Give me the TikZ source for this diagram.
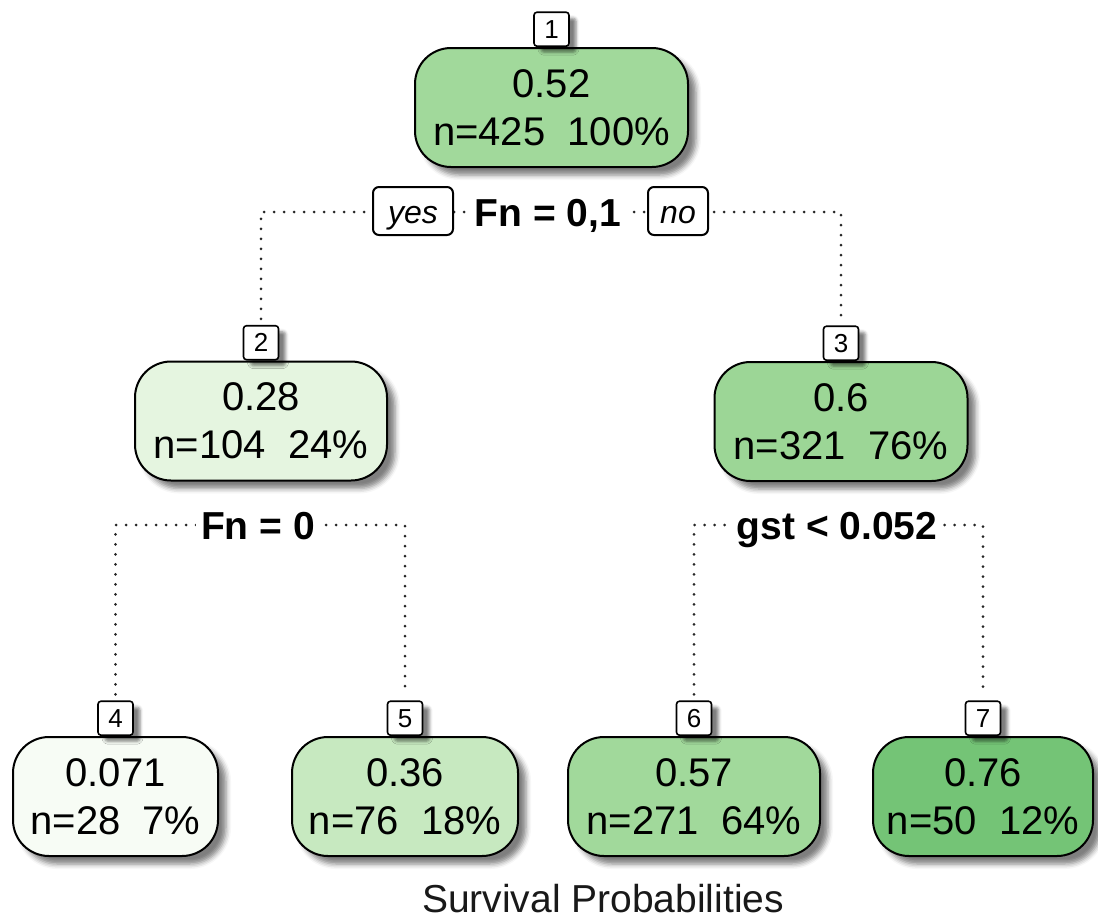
\documentclass[tikz,border=0pt]{standalone}
\usepackage{fontspec}
\setmainfont{Liberation Sans}
\usetikzlibrary{shadows.blur}

\definecolor{gA}{HTML}{F7FCF5}
\definecolor{gB}{HTML}{E5F5E0}
\definecolor{gC}{HTML}{C7E9C0}
\definecolor{gD}{HTML}{A1D99B}
\definecolor{gE}{HTML}{9CD696}
\definecolor{gF}{HTML}{74C476}

\pgfdeclarelayer{background}
\pgfsetlayers{background,main}

\begin{document}
\begin{tikzpicture}[x=1pt,y=-1pt,
  treenode/.style={draw=black, line width=2pt, rounded corners=36pt,
    minimum height=119pt, inner sep=0pt, align=center, text=black,
    font=\fontsize{40}{48}\selectfont,
    blur shadow={shadow xshift=8pt, shadow yshift=-8pt,
      shadow blur radius=5pt, shadow opacity=50}},
  numbox/.style={draw=black, line width=1.6pt, fill=white, rounded corners=3pt,
    minimum width=35pt, minimum height=34pt, inner sep=0pt, anchor=south,
    font=\fontsize{26}{26}\selectfont,
    blur shadow={shadow xshift=7pt, shadow yshift=-6pt,
      shadow blur radius=3pt, shadow opacity=50}},
  splitlabel/.style={fill=white, inner xsep=5pt, inner ysep=0pt,
    text height=29pt, text depth=0pt,
    font=\bfseries\fontsize{39}{39}\selectfont},
  answer/.style={draw=black, line width=2pt, fill=white, rounded corners=6pt,
    minimum height=48pt, inner sep=0pt, text height=24pt, text depth=0pt,
    font=\itshape\fontsize{32}{32}\selectfont},
  dotline/.style={line width=3pt, line cap=round, dash pattern=on 0pt off 10pt,
    black!85, shorten <=6pt, shorten >=6pt}
]
\useasboundingbox (0,0) rectangle (1098,919);

% tree nodes
\node[treenode, fill=gD, minimum width=273pt] (n1) at (551.5,107.5) {0.52\\n=425\ \ 100\%};
\node[treenode, fill=gB, minimum width=252pt] (n2) at (261,421) {0.28\\n=104\ \ 24\%};
\node[treenode, fill=gE, minimum width=253pt] (n3) at (841,421.5) {0.6\\n=321\ \ 76\%};
\node[treenode, fill=gA, minimum width=205pt] (n4) at (115.5,796.5) {0.071\\n=28\ \ 7\%};
\node[treenode, fill=gC, minimum width=226pt] (n5) at (405,796.5) {0.36\\n=76\ \ 18\%};
\node[treenode, fill=gD, minimum width=252pt] (n6) at (694,796.5) {0.57\\n=271\ \ 64\%};
\node[treenode, fill=gF, minimum width=220pt] (n7) at (983,796.5) {0.76\\n=50\ \ 12\%};

% node numbers
\node[numbox] (l1) at (n1.north) {1};
\node[numbox] (l2) at (n2.north) {2};
\node[numbox] (l3) at (n3.north) {3};
\node[numbox] (l4) at (n4.north) {4};
\node[numbox] (l5) at (n5.north) {5};
\node[numbox] (l6) at (n6.north) {6};
\node[numbox] (l7) at (n7.north) {7};

% split rules
\node[splitlabel] (s1) at (548,212) {Fn = 0,1};
\node[splitlabel] (s2) at (258,525) {Fn = 0};
\node[splitlabel] (s3) at (837,525) {gst < 0.052};
\node[answer, minimum width=80pt] (yes) at (413,211) {yes};
\node[answer, minimum width=60pt] (no) at (678,211) {no};

% branches
\begin{pgfonlayer}{background}
\draw[dotline] (l2.north) |- (s1.center) -| (l3.north);
\draw[dotline] (l4.north) |- (s2.center) -| (l5.north);
\draw[dotline] (l6.north) |- (s3.center) -| (l7.north);
\end{pgfonlayer}

\node[anchor=base, inner sep=0pt, text depth=0pt, text=black!90,
  font=\fontsize{39}{39}\selectfont] (title) at (603,912) {Survival Probabilities};
\end{tikzpicture}
\end{document}
